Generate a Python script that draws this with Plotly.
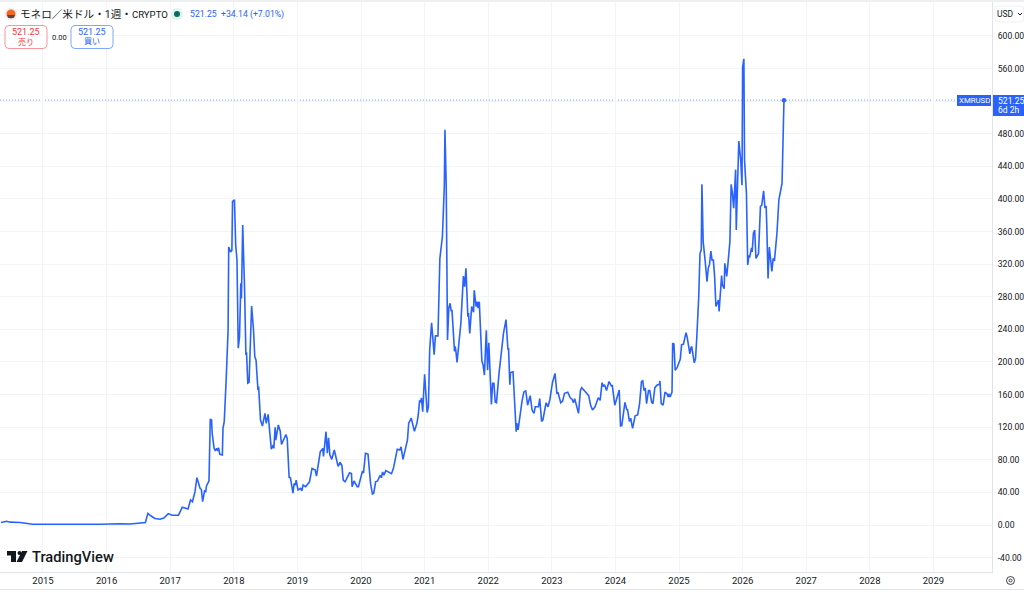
import plotly.graph_objects as go

# chart data
years = [2014.34, 2014.37, 2014.43, 2014.48, 2014.64, 2014.84, 2015.27, 2015.58, 2015.90, 2016.21, 2016.37, 2016.61, 2016.65, 2016.70, 2016.76, 2016.84, 2016.90, 2016.97,
         2017.03, 2017.13, 2017.19, 2017.28, 2017.32, 2017.35, 2017.39, 2017.42, 2017.47, 2017.49, 2017.51, 2017.54, 2017.56, 2017.57, 2017.61, 2017.63, 2017.65, 2017.66, 2017.69, 2017.71, 2017.73, 2017.75, 2017.76, 2017.78, 2017.82, 2017.83, 2017.85, 2017.88, 2017.91, 2017.92, 2017.95, 2017.97, 2017.98,
         2018.01, 2018.03, 2018.05, 2018.07, 2018.09, 2018.11, 2018.12, 2018.14, 2018.17, 2018.19, 2018.20, 2018.22, 2018.24, 2018.28, 2018.31, 2018.33, 2018.35, 2018.38, 2018.39, 2018.42, 2018.45, 2018.49, 2018.51, 2018.54, 2018.59, 2018.62, 2018.63, 2018.65, 2018.66, 2018.70, 2018.73, 2018.75, 2018.78, 2018.82, 2018.84, 2018.87, 2018.89, 2018.93, 2018.95, 2018.97, 2018.98,
         2019.01, 2019.05, 2019.07, 2019.09, 2019.13, 2019.19, 2019.23, 2019.28, 2019.30, 2019.36, 2019.40, 2019.41, 2019.45, 2019.47, 2019.49, 2019.51, 2019.54, 2019.58, 2019.64, 2019.67, 2019.70, 2019.72, 2019.75, 2019.82, 2019.85, 2019.86, 2019.89, 2019.94, 2019.96,
         2020.02, 2020.04, 2020.07, 2020.11, 2020.14, 2020.15, 2020.18, 2020.20, 2020.23, 2020.26, 2020.30, 2020.32, 2020.34, 2020.36, 2020.39, 2020.46, 2020.48, 2020.51, 2020.57, 2020.61, 2020.63, 2020.66, 2020.70, 2020.73, 2020.75, 2020.79, 2020.84, 2020.88, 2020.90, 2020.92, 2020.94, 2020.95, 2020.97,
         2021.00, 2021.04, 2021.06, 2021.08, 2021.11, 2021.15, 2021.17, 2021.21, 2021.24, 2021.28, 2021.31, 2021.32, 2021.34, 2021.36, 2021.38, 2021.40, 2021.42, 2021.43, 2021.47, 2021.48, 2021.49, 2021.51, 2021.57, 2021.61, 2021.63, 2021.65, 2021.68, 2021.69, 2021.71, 2021.74, 2021.77, 2021.78, 2021.81, 2021.83, 2021.84, 2021.86, 2021.90, 2021.92, 2021.94, 2021.97, 2021.99,
         2022.01, 2022.05, 2022.07, 2022.09, 2022.11, 2022.13, 2022.17, 2022.21, 2022.22, 2022.24, 2022.28, 2022.31, 2022.32, 2022.34, 2022.35, 2022.39, 2022.44, 2022.45, 2022.47, 2022.53, 2022.56, 2022.59, 2022.62, 2022.66, 2022.69, 2022.72, 2022.74, 2022.79, 2022.81, 2022.84, 2022.86, 2022.91, 2022.94, 2022.97,
         2023.01, 2023.05, 2023.08, 2023.10, 2023.14, 2023.17, 2023.20, 2023.25, 2023.29, 2023.32, 2023.34, 2023.36, 2023.39, 2023.42, 2023.45, 2023.47, 2023.52, 2023.58, 2023.61, 2023.64, 2023.68, 2023.73, 2023.76, 2023.79, 2023.81, 2023.83, 2023.86, 2023.90, 2023.94, 2023.95, 2023.99,
         2024.06, 2024.08, 2024.10, 2024.15, 2024.18, 2024.19, 2024.22, 2024.24, 2024.27, 2024.31, 2024.35, 2024.38, 2024.41, 2024.43, 2024.45, 2024.47, 2024.49, 2024.52, 2024.54, 2024.57, 2024.59, 2024.62, 2024.66, 2024.69, 2024.70, 2024.72, 2024.75, 2024.78, 2024.81, 2024.83, 2024.84, 2024.86, 2024.89, 2024.90, 2024.92, 2024.94, 2024.97,
         2025.02, 2025.04, 2025.07, 2025.11, 2025.13, 2025.17, 2025.19, 2025.20, 2025.24, 2025.26, 2025.28, 2025.31, 2025.33, 2025.35, 2025.36, 2025.38, 2025.41, 2025.44, 2025.46, 2025.48, 2025.50, 2025.52, 2025.54, 2025.56, 2025.58, 2025.62, 2025.63, 2025.67, 2025.68, 2025.71, 2025.72, 2025.75, 2025.77, 2025.79, 2025.80, 2025.82, 2025.84, 2025.86, 2025.89, 2025.90, 2025.94, 2025.97, 2025.99,
         2026.00, 2026.02, 2026.03, 2026.06, 2026.08, 2026.10, 2026.11, 2026.14, 2026.15, 2026.17, 2026.19, 2026.21, 2026.25, 2026.28, 2026.30, 2026.33, 2026.35, 2026.37, 2026.38, 2026.40, 2026.42, 2026.46, 2026.48, 2026.50, 2026.54, 2026.57, 2026.62, 2026.65]
prices = [3, 3.2, 4.5, 3.5, 3, 1, 0.8, 1, 0.9, 1.5, 1.3, 3, 14.3, 11, 8, 7, 8.5, 14,
          12, 12, 21.7, 19.6, 30.7, 28.6, 40.9, 58, 45, 43.5, 28.6, 41.7, 41, 48, 54, 130, 129, 112.5, 94, 90.8, 94, 91, 95, 86.7, 86, 118.6, 127, 178, 239, 341, 335, 337, 397,
          399, 343.6, 325, 217, 231, 296.6, 278, 368, 288, 208.6, 212, 174, 175, 268.7, 239, 206.6, 202, 165.6, 170, 128.8, 121.5, 137, 124.7, 135.8, 93, 98, 94, 120, 104, 122.7, 115, 99, 105, 111, 106, 58.5, 58, 39, 51, 49, 55,
          43, 45, 42, 49, 47, 53, 69.5, 67.5, 60, 90, 94, 84, 114.5, 88, 107, 86, 80.6, 92, 72, 77, 73, 55, 53, 64, 63, 47, 54, 47, 47,
          65.4, 64, 88, 87, 60, 51, 38, 39, 53, 54, 61, 58, 65, 61, 66.7, 63, 63, 69.5, 93, 92, 96, 80.6, 94, 104, 125, 131, 115, 125, 135, 152, 151, 156, 139,
          185, 138, 145, 215, 248, 209, 232, 232, 327, 354, 416, 485, 416, 227, 266, 272, 262, 264, 213, 219, 215, 199.6, 247.5, 305.5, 292.5, 315, 255.6, 260, 235, 268, 261, 288, 268, 274, 266, 274, 201.6, 196, 184, 239, 190,
          223.7, 148, 174, 174, 151, 150, 186, 216, 216, 235, 252, 215, 217, 172, 187, 188, 114.5, 125, 116.6, 151, 163, 165, 147, 158.7, 141, 137, 145, 145, 155, 127, 129, 150, 145, 154,
          174.6, 186, 161.6, 162, 150, 152, 161.6, 163, 156, 154, 150, 155, 145, 137, 165, 168.5, 164, 158.7, 147, 141, 145, 156, 153, 174.6, 170, 172, 165, 176, 170, 172, 147,
          165.6, 121.5, 122, 150.5, 141, 142, 127, 131, 118.6, 134, 135, 149, 176, 177, 165, 168, 149, 165, 165, 150.5, 149, 168.5, 172, 172, 176.7, 149, 147, 163, 161, 157, 161, 157, 163, 223, 222, 190, 193,
          203.7, 221, 222, 236, 230, 210, 218, 219, 199, 204, 231, 280, 333, 338, 418, 347.6, 325, 298.5, 315, 320, 336, 325, 325, 305, 268, 276, 262, 306, 295, 290, 321, 305, 321, 347.6, 348, 418, 407, 388.6, 436, 362, 471, 448, 417,
          562, 572, 448, 407, 319, 331, 328, 340, 335, 358, 362, 327, 333, 391, 392, 410, 390, 391, 367, 302.6, 341, 311, 327, 324, 358, 399, 419, 521.25]

year_ticks = list(range(2015, 2030))
price_ticks = [-40, 0, 40, 80, 120, 160, 200, 240, 280, 320, 360, 400, 440, 480, 520, 560, 600]
# 520 is hidden behind the price tag
price_labels = ["-40.00", "0.00", "40.00", "80.00", "120.00", "160.00", "200.00", "240.00", "280.00", "320.00", "360.00", "400.00", "440.00", "480.00", "", "560.00", "600.00"]

title = "モネロ／米ドル・1週・"
exchange = "CRYPTO"
quote = "521.25  +34.14 (+7.01%)"
last_price = "521.25"

W, H = 1024, 593
BLUE = "#2962ff"
RED = "#f23645"
DARK = "#131722"
GRID = "#f3f4f6"
BORDER = "#e0e3eb"
FONT = "Roboto, 'Noto Sans CJK JP', sans-serif"


def px(x):
    return x / W


def py(y):
    return 1 - y / H


def rect(x0, y0, x1, y1, fill, line=None):
    return dict(type="rect", xref="paper", yref="paper", x0=px(x0), x1=px(x1), y0=py(y0), y1=py(y1),
                fillcolor=fill, line=dict(color=line or fill, width=1 if line else 0), layer="above")


def rounded(x0, y0, x1, y1, r, line):
    p = (f"M{px(x0 + r)},{py(y0)} L{px(x1 - r)},{py(y0)} Q{px(x1)},{py(y0)} {px(x1)},{py(y0 + r)} "
         f"L{px(x1)},{py(y1 - r)} Q{px(x1)},{py(y1)} {px(x1 - r)},{py(y1)} L{px(x0 + r)},{py(y1)} "
         f"Q{px(x0)},{py(y1)} {px(x0)},{py(y1 - r)} L{px(x0)},{py(y0 + r)} Q{px(x0)},{py(y0)} {px(x0 + r)},{py(y0)} Z")
    return dict(type="path", xref="paper", yref="paper", path=p, fillcolor="white", line=dict(color=line, width=1), layer="above")


def circle(cx, cy, r, fill, line=None):
    return dict(type="circle", xref="paper", yref="paper", x0=px(cx - r), x1=px(cx + r), y0=py(cy - r), y1=py(cy + r),
                fillcolor=fill, line=dict(color=line or fill, width=1 if line else 0), layer="above")


def poly(points, fill):
    p = "M" + " L".join(f"{px(x)},{py(y)}" for x, y in points) + " Z"
    return dict(type="path", xref="paper", yref="paper", path=p, fillcolor=fill, line=dict(width=0), layer="above")


def label(x, y, text, size, color, anchor="left", weight=400):
    return dict(xref="paper", yref="paper", x=px(x), y=py(y), text=text, showarrow=False, xanchor=anchor, yanchor="middle",
                font=dict(size=size, color=color, family=FONT, weight=weight), borderpad=0, borderwidth=0)


fig = go.Figure()
fig.add_trace(go.Scatter(x=years, y=prices, mode="lines", line=dict(color=BLUE, width=1.6), showlegend=False))
fig.add_trace(go.Scatter(x=years[-1:], y=prices[-1:], mode="markers", marker=dict(color=BLUE, size=4.5), showlegend=False))

shapes = [
    dict(type="line", xref="paper", yref="y", x0=0, x1=px(957), y0=prices[-1], y1=prices[-1], line=dict(color="#7f9fff", width=1, dash="1px,2px"), layer="below"),
    rect(0, 0, W, 2, "#eeeff1"),
    rect(0, 589, W, 590, BORDER),
    # header badges
    circle(11, 14, 6.5, "#eef1f8"),
    circle(11, 14, 4.5, "#f26822"),
    poly([(7, 15), (15, 15), (13.5, 18), (8.5, 18)], "#4c4c4c"),
    circle(177, 14, 6, "#dff3ef"),
    circle(177, 14, 3, "#0b6b5d"),
    rounded(5, 25.5, 47, 48.5, 4, "#f7959d"),
    rounded(71, 25.5, 113, 48.5, 4, "#82a5ff"),
    # TradingView logo
    poly([(7, 551), (16, 551), (16, 562), (11, 562), (11, 555.5), (7, 555.5)], DARK),
    circle(19.5, 553, 2, DARK),
    poly([(22, 551), (27.5, 551), (22, 562), (16.5, 562)], DARK),
    # price tags
    rect(957, 95, 991, 106, BLUE),
    rect(993, 95, W, 116, BLUE),
    # currency button
    rounded(995, 6, 1023.5, 22, 3, "#f0f1f4"),
    dict(type="path", xref="paper", yref="paper", path=f"M{px(1018)},{py(13)} L{px(1020)},{py(15)} L{px(1022)},{py(13)}", line=dict(color=DARK, width=1), layer="above"),
    # settings icon
    circle(1010.5, 580.5, 4, "white", "#3b3f4a"),
    circle(1010.5, 580.5, 1.5, "white", "#3b3f4a"),
]

annotations = [
    label(20, 14, f'{title}<span style="font-size:9.6px">{exchange}</span>', 10.6, DARK),
    label(190, 14, quote, 8.7, BLUE),
    label(26, 32, last_price, 9, RED, "center"),
    label(26, 42, "売り", 8, RED, "center"),
    label(59, 37, "0.00", 7.5, DARK, "center"),
    label(92, 32, last_price, 9, BLUE, "center"),
    label(92, 42, "買い", 8, BLUE, "center"),
    label(32, 557, "TradingView", 14.7, DARK, weight=500),
    label(974, 100.5, "XMRUSD", 7.8, "white", "center"),
    label(998, 100.5, last_price, 8.6, "white"),
    label(998, 110, "6d 2h", 8.5, "white"),
    label(997, 14, "USD", 8.5, DARK),
]

fig.update_layout(
    width=W, height=H, autosize=False, margin=dict(l=0, r=0, t=0, b=0),
    paper_bgcolor="white", plot_bgcolor="white", showlegend=False,
    font=dict(family=FONT, color=DARK, size=9.5),
    shapes=shapes, annotations=annotations,
    xaxis=dict(domain=[0, 992 / W], range=[2014.324, 2029.921], tickvals=year_ticks, ticktext=[str(y) for y in year_ticks],
               showgrid=True, gridcolor=GRID, gridwidth=1, zeroline=False, showline=True, linecolor=BORDER, linewidth=1,
               ticks=""),
    yaxis=dict(domain=[py(572), py(2)], range=[-57.67, 641.7], side="right", tickvals=price_ticks, ticktext=price_labels,
               showgrid=True, gridcolor=GRID, gridwidth=1, zeroline=False, showline=True, linecolor=BORDER, linewidth=1,
               ticks="outside", ticklen=3, tickcolor="white", tickfont=dict(size=8.6)),
)

fig.write_html("out.html", post_script="document.body.style.margin='0';", config=dict(displayModeBar=False))
